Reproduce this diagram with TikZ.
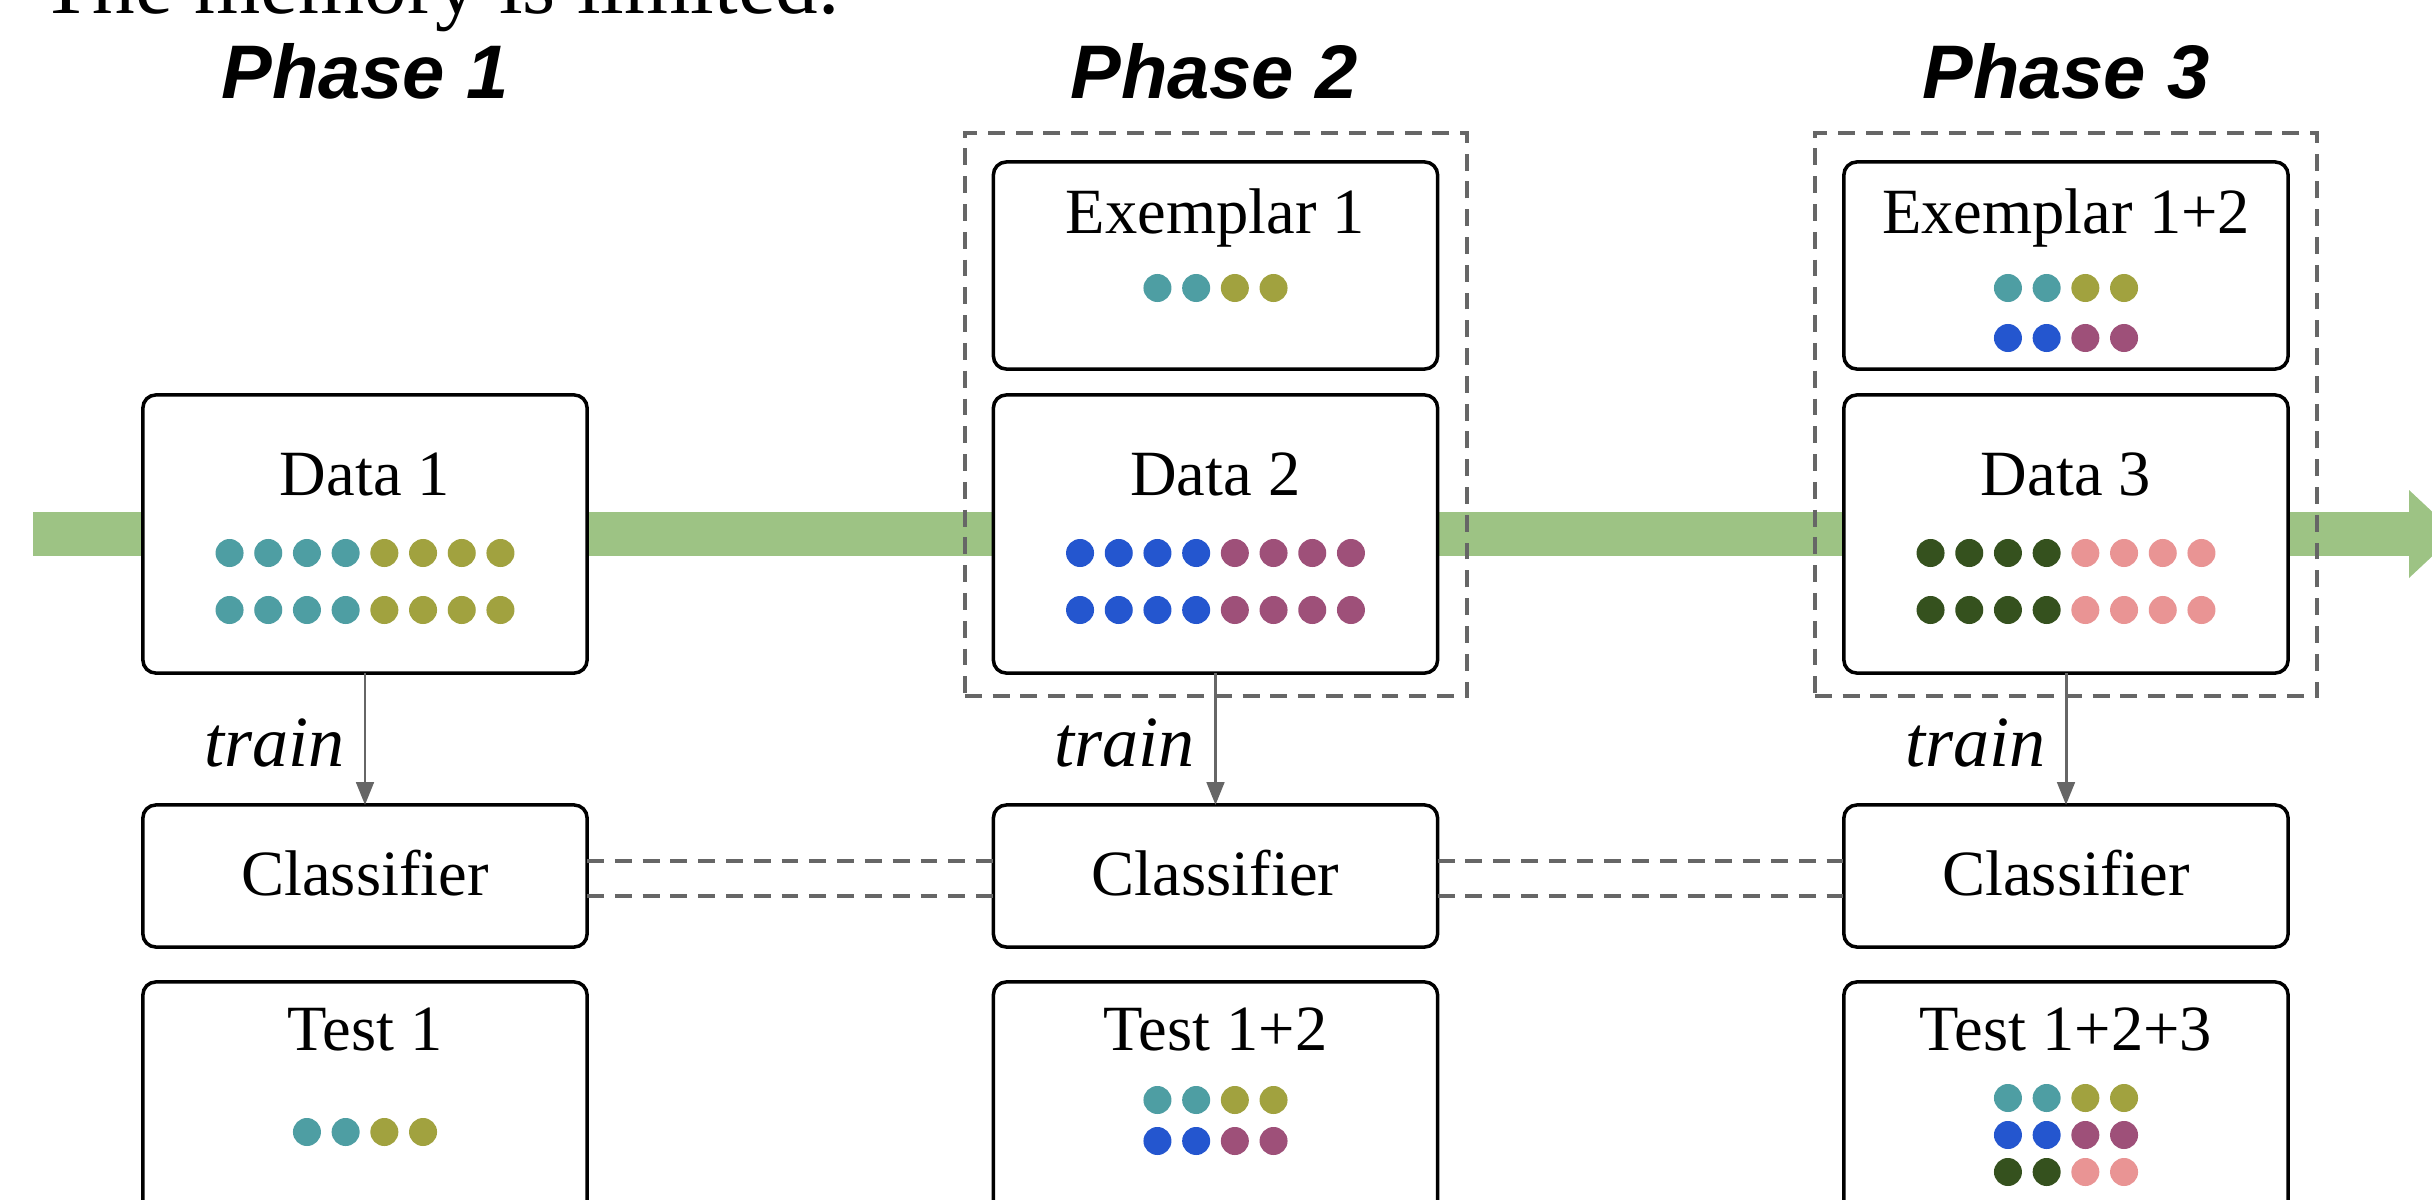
\documentclass[tikz,border=0pt]{standalone}
\usepackage{fontspec}
\setmainfont{Liberation Serif}
\newfontfamily\phasefont{Liberation Sans}
\usetikzlibrary{arrows.meta,calc}
\definecolor{cT}{HTML}{4E9EA3}
\definecolor{cO}{HTML}{A1A23F}
\definecolor{cB}{HTML}{2456CF}
\definecolor{cM}{HTML}{9E5079}
\definecolor{cG}{HTML}{35511E}
\definecolor{cP}{HTML}{E99494}
\definecolor{bandgreen}{HTML}{9DC384}
\definecolor{grayA}{HTML}{666666}
\newcommand\dotrow[4]{%
  \foreach \c [count=\i] in {#4}
    \fill[\c] ({#1+(\i-(#3+1)/2)*38.7},#2) circle[radius=0.14cm];}
\begin{document}
\begin{tikzpicture}[x=0.01cm,y=-0.01cm,
  box/.style={draw=black, line width=1pt, rounded corners=3.7pt, fill=white,
    minimum width=4.44cm, inner sep=0pt, outer sep=0pt},
  lbl/.style={anchor=base, inner sep=0pt, font=\fontsize{18.35}{22}\selectfont},
  trainlbl/.style={anchor=base east, inner sep=0pt, font=\fontsize{20.5}{24}\selectfont\itshape},
  phase/.style={anchor=base, inner sep=0pt, font=\phasefont\bfseries\itshape\fontsize{21.6}{26}\selectfont},
  trainarrow/.style={draw=grayA, line width=0.85pt, -{Triangle[length=6.5pt,width=5pt]}},
  link/.style={draw=grayA, line width=1.15pt, dash pattern=on 4.8pt off 3.1pt},
  memo/.style={draw=grayA, line width=1.15pt, dash pattern=on 4.8pt off 3.1pt,
    inner sep=0pt, outer sep=0pt, minimum width=5.02cm, minimum height=5.63cm},
]
\useasboundingbox (0,0) rectangle (2432,1200);
\clip (0,0) rectangle (2432,1200);

% top text (cut off by the top edge, as in the reference)
\node[anchor=base west, inner sep=0pt, font=\fontsize{24.2}{29}\selectfont] (memtxt) at (40,13) {The memory is limited.};

% phase titles
\node[phase] (ph1) at (365,98) {Phase 1};
\node[phase] (ph2) at (1214,98) {Phase 2};
\node[phase] (ph3) at (2066,98) {Phase 3};

% green stream arrow
\fill[bandgreen] (33,512) rectangle (2409,556);
\fill[bandgreen] (2409,490) -- (2456,534) -- (2409,578) -- cycle;

% memory (dashed) frames
\node[memo] (mem2) at (1216,414.5) {};
\node[memo] (mem3) at (2066,414.5) {};

% boxes
\node[box, minimum height=2.78cm] (d1) at (365,534) {};
\node[box, minimum height=2.78cm] (d2) at (1215.5,534) {};
\node[box, minimum height=2.78cm] (d3) at (2066,534) {};
\node[box, minimum height=2.07cm] (e2) at (1215.5,265.5) {};
\node[box, minimum height=2.07cm] (e3) at (2066,265.5) {};
\node[box, minimum height=1.42cm] (c1) at (365,876) {};
\node[box, minimum height=1.42cm] (c2) at (1215.5,876) {};
\node[box, minimum height=1.42cm] (c3) at (2066,876) {};
\node[box, minimum height=2.78cm] (t1) at (365,1121) {};
\node[box, minimum height=2.78cm] (t2) at (1215.5,1121) {};
\node[box, minimum height=2.78cm] (t3) at (2066,1121) {};

% box titles
\node[lbl] (ld1) at (365,495) {Data 1};
\node[lbl] (ld2) at (1215.5,495) {Data 2};
\node[lbl] (ld3) at (2066,495) {Data 3};
\node[lbl] (le2) at (1215.5,233) {Exemplar 1};
\node[lbl] (le3) at (2066,233) {Exemplar 1+2};
\node[lbl] (lc1) at (365,895) {Classifier};
\node[lbl] (lc2) at (1215.5,895) {Classifier};
\node[lbl] (lc3) at (2066,895) {Classifier};
\node[lbl] (lt1) at (365,1050) {Test 1};
\node[lbl] (lt2) at (1215.5,1050) {Test 1+2};
\node[lbl] (lt3) at (2066,1050) {Test 1+2+3};

% dots
\dotrow{365}{553}{8}{cT,cT,cT,cT,cO,cO,cO,cO}
\dotrow{365}{610}{8}{cT,cT,cT,cT,cO,cO,cO,cO}
\dotrow{1215.5}{553}{8}{cB,cB,cB,cB,cM,cM,cM,cM}
\dotrow{1215.5}{610}{8}{cB,cB,cB,cB,cM,cM,cM,cM}
\dotrow{2066}{553}{8}{cG,cG,cG,cG,cP,cP,cP,cP}
\dotrow{2066}{610}{8}{cG,cG,cG,cG,cP,cP,cP,cP}
\dotrow{1215.5}{288}{4}{cT,cT,cO,cO}
\dotrow{2066}{288}{4}{cT,cT,cO,cO}
\dotrow{2066}{338}{4}{cB,cB,cM,cM}
\dotrow{365}{1132}{4}{cT,cT,cO,cO}
\dotrow{1215.5}{1100}{4}{cT,cT,cO,cO}
\dotrow{1215.5}{1141}{4}{cB,cB,cM,cM}
\dotrow{2066}{1098}{4}{cT,cT,cO,cO}
\dotrow{2066}{1135}{4}{cB,cB,cM,cM}
\dotrow{2066}{1172}{4}{cG,cG,cP,cP}

% train arrows
\draw[trainarrow] (d1.south) -- (c1.north);
\draw[trainarrow] (d2.south) -- (c2.north);
\draw[trainarrow] (d3.south) -- (c3.north);
\node[trainlbl] (tr1) at (345,766) {train};
\node[trainlbl] (tr2) at (1195.5,766) {train};
\node[trainlbl] (tr3) at (2046,766) {train};

% classifier links
\draw[link] ($(c1.east)+(0,-15)$) -- ($(c2.west)+(0,-15)$);
\draw[link] ($(c1.east)+(0,20)$) -- ($(c2.west)+(0,20)$);
\draw[link] ($(c2.east)+(0,-15)$) -- ($(c3.west)+(0,-15)$);
\draw[link] ($(c2.east)+(0,20)$) -- ($(c3.west)+(0,20)$);
\end{tikzpicture}
\end{document}
